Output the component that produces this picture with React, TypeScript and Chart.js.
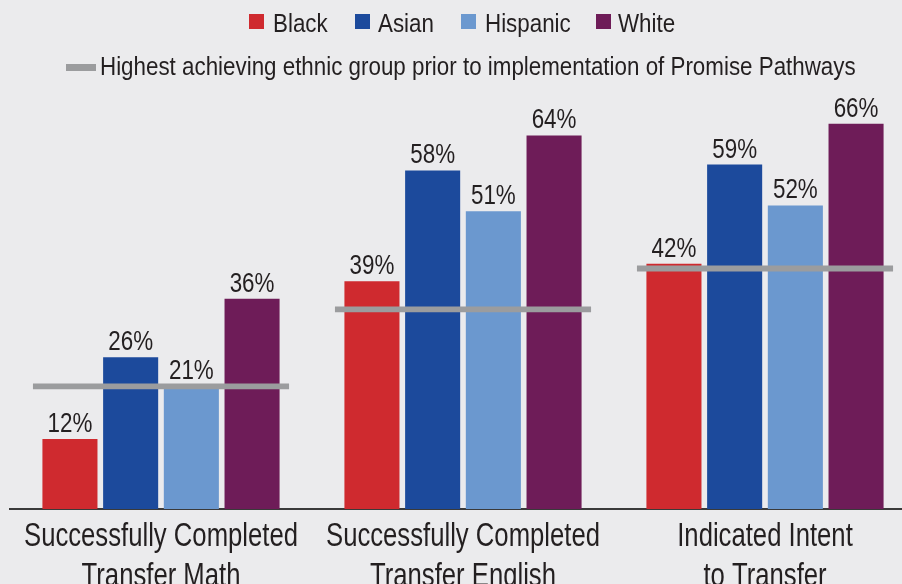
import React, { useEffect, useRef } from "react";
import { Chart, registerables } from "chart.js";

Chart.register(...registerables);

const categories = [
  ["Successfully Completed", "Transfer Math"],
  ["Successfully Completed", "Transfer English"],
  ["Indicated Intent", "to Transfer"],
];
const seriesNames = ["Black", "Asian", "Hispanic", "White"];
const black = [12, 39, 42];
const asian = [26, 58, 59];
const hispanic = [21, 51, 52];
const white = [36, 64, 66];
const priorHighest = [21, 34.2, 41.2];
const seriesColors = ["#cf2a2f", "#1c4a9c", "#6b98cf", "#6e1c58"];
const lineColor = "#9b9c9e";
const lineLabel =
  "Highest achieving ethnic group prior to implementation of Promise Pathways";

const FONT = "'Liberation Sans', Arial, sans-serif";
const TEXT = "#231f20";
const BG = "#ebebed";

const valueLabels = {
  id: "valueLabels",
  afterDatasetsDraw(chart: any) {
    const ctx = chart.ctx;
    ctx.save();
    ctx.font = `27px ${FONT}`;
    ctx.fillStyle = TEXT;
    ctx.textAlign = "center";
    ctx.textBaseline = "alphabetic";
    chart.data.datasets.forEach((ds: any, i: number) => {
      if (ds.grouped === false) return;
      const meta = chart.getDatasetMeta(i);
      meta.data.forEach((el: any, j: number) => {
        ctx.save();
        ctx.translate(el.x, el.y - 7);
        ctx.scale(0.83, 1);
        ctx.fillText(`${ds.data[j]}%`, 0, 0);
        ctx.restore();
      });
    });
    ctx.restore();
  },
};

const categoryLabels = {
  id: "categoryLabels",
  afterDraw(chart: any) {
    const scale = chart.scales.x;
    const ctx = chart.ctx;
    ctx.save();
    ctx.font = `33px ${FONT}`;
    ctx.fillStyle = TEXT;
    ctx.textAlign = "center";
    ctx.textBaseline = "alphabetic";
    (chart.data.labels as string[][]).forEach((lines, i) => {
      const x = scale.getPixelForValue(i);
      lines.forEach((line, k) => {
        ctx.save();
        ctx.translate(x, scale.top + 37 + k * 40);
        ctx.scale(0.778, 1);
        ctx.fillText(line, 0, 0);
        ctx.restore();
      });
    });
    ctx.restore();
  },
};

export default function App() {
  const canvasRef = useRef<HTMLCanvasElement | null>(null);

  useEffect(() => {
    document.body.style.margin = "0";
    document.body.style.background = BG;
    const values = [black, asian, hispanic, white];
    const chart = new Chart(canvasRef.current as HTMLCanvasElement, {
      type: "bar",
      data: {
        labels: categories as any,
        datasets: [
          {
            label: lineLabel,
            data: priorHighest.map((v) => [v - 0.5, v + 0.5]) as any,
            backgroundColor: lineColor,
            grouped: false,
            order: 0,
            categoryPercentage: 0.848,
            barPercentage: 1,
          } as any,
          ...seriesNames.map((name, i) => ({
            label: name,
            data: values[i],
            backgroundColor: seriesColors[i],
            order: 1,
            categoryPercentage: 0.804,
            barPercentage: 0.907,
          })),
        ],
      },
      options: {
        animation: false,
        responsive: false,
        maintainAspectRatio: false,
        devicePixelRatio: 1,
        layout: { padding: { left: 10, right: 14, top: 42, bottom: 0 } },
        plugins: {
          legend: { display: false },
          tooltip: { enabled: false },
        },
        scales: {
          x: {
            type: "category",
            offset: true,
            grid: { display: false, drawTicks: false },
            border: { display: true, color: "#3a3a3a", width: 2 },
            ticks: { display: false },
            afterFit: (s: any) => {
              s.height = 75;
            },
          },
          y: { display: false, min: 0, max: 80 },
        },
      } as any,
      plugins: [valueLabels, categoryLabels],
    });
    return () => chart.destroy();
  }, []);

  const sq = (left: number, color: string) => (
    <div
      style={{
        position: "absolute",
        left,
        top: 14,
        width: 15,
        height: 15,
        background: color,
      }}
    />
  );
  const txt = (left: number, top: number, s: string) => (
    <div
      style={{
        position: "absolute",
        left,
        top,
        fontSize: 26,
        lineHeight: "30px",
        fontFamily: FONT,
        color: TEXT,
        whiteSpace: "nowrap",
        transform: "scaleX(0.86)",
        transformOrigin: "0 50%",
      }}
    >
      {s}
    </div>
  );

  return (
    <div
      style={{
        position: "fixed",
        left: 0,
        top: 0,
        width: 930,
        height: 584,
        background: BG,
        overflow: "hidden",
      }}
    >
      <canvas
        ref={canvasRef}
        width={930}
        height={584}
        style={{ position: "absolute", left: 0, top: 0, width: 930, height: 584 }}
      />
      {sq(249, seriesColors[0])}
      {txt(273, 8, seriesNames[0])}
      {sq(355, seriesColors[1])}
      {txt(378, 8, seriesNames[1])}
      {sq(461, seriesColors[2])}
      {txt(485, 8, seriesNames[2])}
      {sq(596, seriesColors[3])}
      {txt(618, 8, seriesNames[3])}
      <div
        style={{
          position: "absolute",
          left: 66,
          top: 64,
          width: 30,
          height: 7,
          background: lineColor,
        }}
      />
      {txt(100, 51, lineLabel)}
    </div>
  );
}
